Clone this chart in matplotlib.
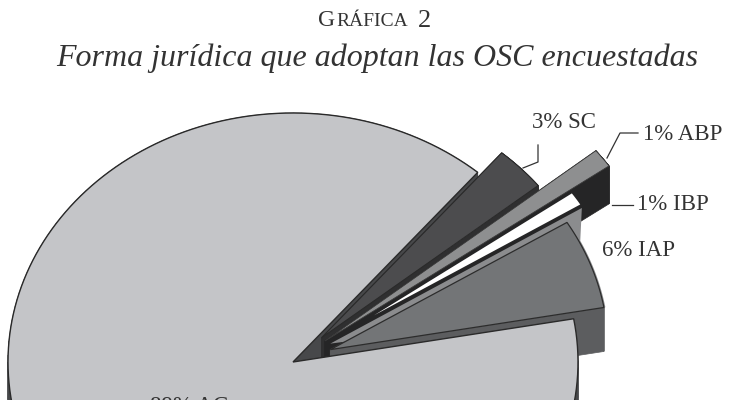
import numpy as np
import matplotlib
matplotlib.use('Agg')
import matplotlib.pyplot as plt

# data
labels = ['AC', 'IAP', 'IBP', 'ABP', 'SC']
shares = [89, 6, 1, 1, 3]

# layout of the pseudo 3d pie, in pixels
cx, cy = 293, 362
rx, ry = 285, 249
start_angle = 49.6
explode = {'AC': 0, 'IAP': 0.14, 'IBP': 0.34, 'ABP': 0.14, 'SC': 0.14}
radius = {'AC': 1.0, 'IAP': 0.975, 'IBP': 0.85, 'ABP': 1.22, 'SC': 0.975}
depth = {'AC': 44, 'IAP': 44, 'ABP': 38, 'SC': 38}

# work out the angle span of every slice from the shares
spans = {}
a = start_angle
for name, share in zip(labels, shares):
    spans[name] = (a, a + share * 3.6)
    a += share * 3.6


def wedge(name, r=None, a0=None, a1=None):
    # outline of a slice top, squashed to the ellipse
    s0, s1 = spans[name]
    s0 = s0 if a0 is None else a0
    s1 = s1 if a1 is None else a1
    r = radius[name] if r is None else r
    mid = np.radians(sum(spans[name]) / 2)
    ox = cx + explode[name] * rx * np.cos(mid)
    oy = cy - explode[name] * ry * np.sin(mid)
    t = np.radians(np.linspace(s0, s1, 200))
    xs = ox + r * rx * np.cos(t)
    ys = oy - r * ry * np.sin(t)
    return np.r_[ox, xs], np.r_[oy, ys]


def block(ax, name, color):
    # side walls: the top outline swept downwards
    xs, ys = wedge(name)
    d = depth[name]
    for i in range(len(xs)):
        j = (i + 1) % len(xs)
        ax.fill([xs[i], xs[j], xs[j], xs[i]], [ys[i], ys[j], ys[j] + d, ys[i] + d],
                color=color, lw=0.5)


fig = plt.figure(figsize=(7.3, 4), dpi=100)
ax = fig.add_axes([0, 0, 1, 1])
ax.set_xlim(0, 730)
ax.set_ylim(400, 0)
ax.axis('off')

block(ax, 'AC', '#47484a')

block(ax, 'SC', '#2f2f30')
ax.fill(*wedge('SC'), color='#4c4c4e', ec='#2a2a2a', lw=0.8)

block(ax, 'ABP', '#252526')
ax.fill(*wedge('ABP'), color='#8e8f90', ec='#3a3a3a', lw=0.6)

block(ax, 'IAP', '#5c5d5f')
# lighter strip behind the IAP top
s0, s1 = spans['IAP']
bx, by = wedge('IAP', r=0.98, a0=s1 - 5.1, a1=s1 - 21.6)
tx, ty = wedge('IAP', r=1.05, a0=32.8, a1=32.8)
ax.fill(np.r_[bx[0], tx[1], bx[1:]], np.r_[by[0] - 6, ty[1], by[1:]], color='#8b8c8e', lw=0)
ax.fill(*wedge('IAP'), color='#737577', ec='#2c2c2c', lw=0.9)

ax.fill(*wedge('IBP'), color='white', lw=0)

ax.fill(*wedge('AC'), color='#c4c5c8', ec='#2a2a2a', lw=1.0)

# leaders
line = dict(color='#333333', lw=0.9)
ax.plot([538, 538, 523], [145, 162, 168], **line)
ax.plot([607, 620, 638], [158, 133, 133], **line)
ax.plot([612, 633], [205, 205], **line)

# labels
font = dict(family='Liberation Serif', color='#333333', va='center')
pct = dict(zip(labels, shares))
ax.text(532, 122, f"{pct['SC']}% SC", fontsize=16.5, **font)
ax.text(643, 134, f"{pct['ABP']}% ABP", fontsize=16.5, **font)
ax.text(637, 205, f"{pct['IBP']}% IBP", fontsize=16.5, **font)
ax.text(602, 250, f"{pct['IAP']}% IAP", fontsize=16.5, **font)
ax.text(150, 406, f"{pct['AC']}% AC", fontsize=16.5, **font)

# titles
ax.text(318, 21, 'G', fontsize=17, **font)
ax.text(336, 22, 'RÁFICA', fontsize=14, **font)
ax.text(418, 21, '2', fontsize=19, **font)
ax.text(377, 58, 'Forma jurídica que adoptan las OSC encuestadas', fontsize=23,
        style='italic', ha='center', **font)

fig.savefig('out.png', dpi=100)
